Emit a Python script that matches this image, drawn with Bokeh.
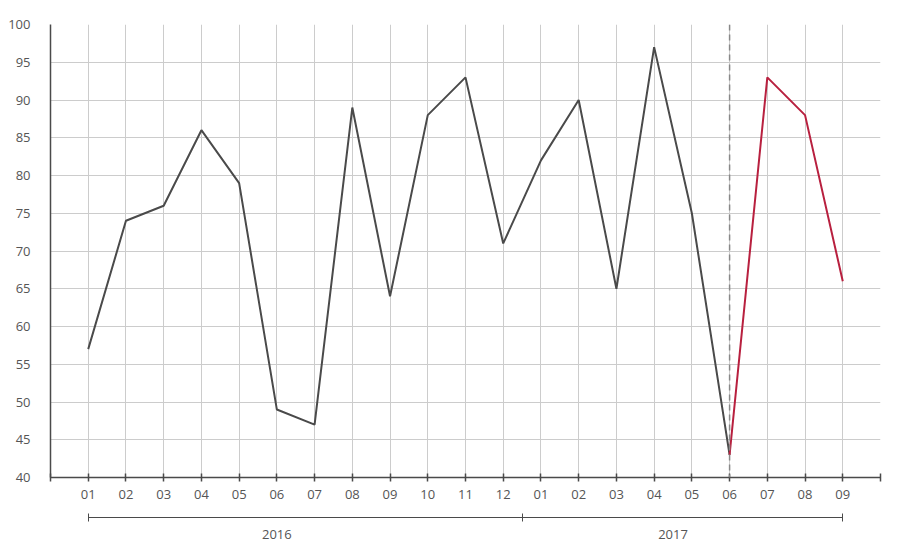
from bokeh.plotting import figure
from bokeh.models import Range1d, FixedTicker, Span, LinearAxis
from bokeh.embed import file_html
from bokeh.resources import INLINE

years = ["2016", "2017"]
months_2016 = ["01", "02", "03", "04", "05", "06", "07", "08", "09", "10", "11", "12"]
months_2017 = ["01", "02", "03", "04", "05", "06", "07", "08", "09"]
values_2016 = [57, 74, 76, 86, 79, 49, 47, 89, 64, 88, 93, 71]
values_2017 = [82, 90, 65, 97, 75, 43, 93, 88, 66]
forecast_from = "06"  # 2017 month where the red part starts
y_ticks = list(range(40, 101, 5))

FONT = "Open Sans"
TEXT = "#555555"
GRID = "#cccccc"
DARK = "#4a4a4a"
RED = "#b8203f"

labels = months_2016 + months_2017
values = values_2016 + values_2017
xs = list(range(1, len(labels) + 1))
n16 = len(months_2016)
split = n16 + months_2017.index(forecast_from) + 1  # x position of 2017-06
x_end = len(labels) + 1

p = figure(width=888, height=541, output_backend="svg", toolbar_location=None,
           x_range=Range1d(0, x_end), y_range=Range1d(40, 100),
           min_border_left=50, min_border_right=8, min_border_top=24,
           min_border_bottom=63)
p.outline_line_color = None
p.background_fill_color = "white"

# grid
p.xgrid.ticker = FixedTicker(ticks=list(range(1, x_end + 1)))
p.xgrid.grid_line_color = GRID
p.ygrid.ticker = FixedTicker(ticks=y_ticks)
p.ygrid.grid_line_color = GRID

# x axis with month labels (unlabelled end ticks as minor ticks)
p.xaxis.ticker = FixedTicker(ticks=xs, minor_ticks=[0, x_end])
p.xaxis.major_label_overrides = dict(zip(xs, labels))
p.xaxis.axis_line_color = DARK
p.xaxis.axis_line_width = 1.5
for kind in ("major", "minor"):
    setattr(p.xaxis, kind + "_tick_line_color", DARK)
    setattr(p.xaxis, kind + "_tick_line_width", 1.5)
    setattr(p.xaxis, kind + "_tick_in", 4)
    setattr(p.xaxis, kind + "_tick_out", 4)
p.xaxis.major_label_standoff = 8
p.xaxis.major_label_text_font = FONT
p.xaxis.major_label_text_font_size = "13px"
p.xaxis.major_label_text_color = TEXT

# y axis
p.yaxis.ticker = FixedTicker(ticks=y_ticks)
p.yaxis.axis_line_color = DARK
p.yaxis.axis_line_width = 1.5
p.yaxis.major_tick_line_color = None
p.yaxis.minor_tick_line_color = None
p.yaxis.major_label_standoff = 14
p.yaxis.major_label_text_font = FONT
p.yaxis.major_label_text_font_size = "13px"
p.yaxis.major_label_text_color = TEXT

# invisible spacer axis between month labels and year brackets
spacer = LinearAxis(ticker=FixedTicker(ticks=[1]), axis_line_color=None,
                    major_tick_line_color=None, minor_tick_line_color=None,
                    major_tick_in=0, major_tick_out=16, major_label_standoff=0,
                    major_label_text_color=None)
p.add_layout(spacer, "below")

# year brackets |-----|-----| with year labels
year_pos = [6, 16.5]
year_axis = LinearAxis(ticker=FixedTicker(ticks=year_pos,
                                          minor_ticks=[1, n16 + 0.5, len(labels)]),
                       bounds=(1, len(labels)),
                       major_label_overrides=dict(zip(year_pos, years)),
                       axis_line_color=DARK, axis_line_width=1,
                       major_tick_line_color=None, major_tick_in=0,
                       major_tick_out=4,
                       minor_tick_line_color=DARK, minor_tick_line_width=1,
                       minor_tick_in=4, minor_tick_out=4,
                       major_label_standoff=8,
                       major_label_text_font=FONT,
                       major_label_text_font_size="13px",
                       major_label_text_color=TEXT)
p.add_layout(year_axis, "below")

# dashed separator at start of forecast
p.add_layout(Span(location=split, dimension="height", line_color="#888888",
                  line_width=1.5, line_dash="6 4"))

# lines
p.line(xs[:split], values[:split], line_color=DARK, line_width=2)
p.line(xs[split - 1:], values[split - 1:], line_color=RED, line_width=2)

open("out.html", "w").write(file_html(p, INLINE))
